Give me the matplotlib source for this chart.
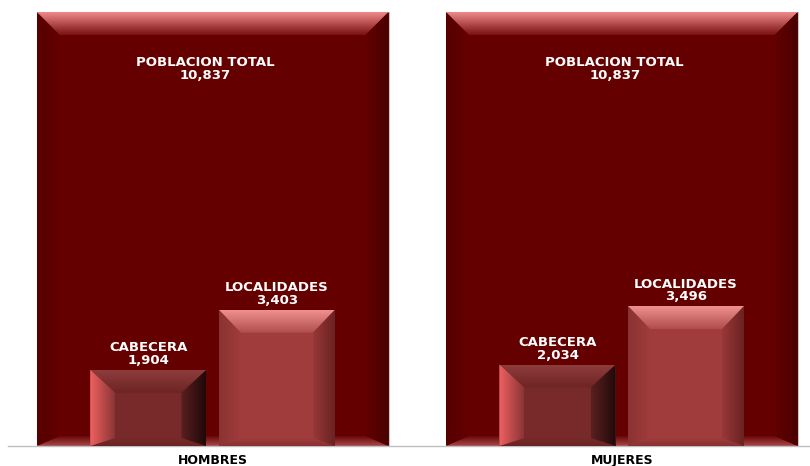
import numpy as np
import matplotlib
matplotlib.use("Agg")
import matplotlib.pyplot as plt
from matplotlib.patches import Polygon
from matplotlib.colors import LinearSegmentedColormap

categories = ["HOMBRES", "MUJERES"]
total = [10837, 10837]
cabecera = [1904, 2034]
localidades = [3403, 3496]
total_label = "POBLACION TOTAL"
cab_label = "CABECERA"
loc_label = "LOCALIDADES"

W, H = 810, 466
fig = plt.figure(figsize=(W / 100, H / 100), dpi=100)
ax = fig.add_axes([8 / W, 20 / H, 802 / W, 440.5 / H])
ymax = 11000
ax.set_xlim(-0.5, 1.46)
ax.set_ylim(0, ymax)

px_x = 1.96 / 802
px_y = ymax / 440.5


def grad_poly(verts, c0, c1, direction, z):
    poly = Polygon(verts, closed=True, facecolor="none", edgecolor="none",
                   transform=ax.transData)
    ax.add_patch(poly)
    v = np.array(verts)
    xmin, xmax = v[:, 0].min(), v[:, 0].max()
    ymin, ymaxv = v[:, 1].min(), v[:, 1].max()
    cmap = LinearSegmentedColormap.from_list("g", [c0, c1])
    g = np.linspace(0, 1, 128)
    if direction == "up":
        arr = g.reshape(-1, 1)
    elif direction == "down":
        arr = g[::-1].reshape(-1, 1)
    elif direction == "right":
        arr = g.reshape(1, -1)
    else:
        arr = g[::-1].reshape(1, -1)
    im = ax.imshow(arr, cmap=cmap, extent=[xmin, xmax, ymin, ymaxv],
                   origin="lower", aspect="auto", interpolation="bilinear",
                   zorder=z)
    im.set_clip_path(poly)


def bevel(patch, dxp, dyt, dyb, top, bottom, left, right, z):
    x0 = patch.get_x()
    x1 = x0 + patch.get_width()
    y0 = patch.get_y()
    y1 = y0 + patch.get_height()
    dx = dxp * px_x
    dt = dyt * px_y
    db = dyb * px_y
    grad_poly([(x0, y1), (x1, y1), (x1 - dx, y1 - dt), (x0 + dx, y1 - dt)],
              top[0], top[1], "down", z)
    grad_poly([(x0, y0), (x1, y0), (x1 - dx, y0 + db), (x0 + dx, y0 + db)],
              bottom[0], bottom[1], "up", z)
    grad_poly([(x0, y0), (x0, y1), (x0 + dx, y1 - dt), (x0 + dx, y0 + db)],
              left[0], left[1], "right", z)
    grad_poly([(x1, y0), (x1, y1), (x1 - dx, y1 - dt), (x1 - dx, y0 + db)],
              right[0], right[1], "left", z)


x = np.arange(len(categories))
big = ax.bar(x, total, width=0.86, color="#650000", edgecolor="#c8c8c8",
             linewidth=0.8, zorder=1)
off = 0.157
sw = 0.284
cab = ax.bar(x - off, cabecera, width=sw, color="#782a2a", zorder=3)
loc = ax.bar(x + off, localidades, width=sw, color="#a03c3c", zorder=3)

for p in big:
    bevel(p, 23, 23, 10,
          ("#f08a8a", "#7a1010"), ("#a84848", "#6a0808"),
          ("#560000", "#650000"), ("#4a0000", "#620000"), 2)
for p in cab:
    bevel(p, 25, 23, 8,
          ("#8e3c3c", "#6e2424"), ("#6a2424", "#782a2a"),
          ("#f06060", "#8a3535"), ("#200808", "#5a2020"), 4)
for p in loc:
    bevel(p, 22, 23, 8,
          ("#f09090", "#b04c4c"), ("#8a3030", "#a03c3c"),
          ("#8a3232", "#a03c3c"), ("#6a2222", "#983838"), 4)

tkw = dict(color="white", fontweight="bold", fontsize=9.5, ha="center",
           linespacing=0.95, zorder=6, family="DejaVu Sans")
for i, p in enumerate(big):
    cx = p.get_x() + p.get_width() / 2 - 7 * px_x
    ax.text(cx, total[i] - 44 * px_y, f"{total_label}\n{total[i]:,}",
            va="top", **tkw)
for i, p in enumerate(cab):
    cx = p.get_x() + p.get_width() / 2
    ax.text(cx, cabecera[i] + 3 * px_y, f"{cab_label}\n{cabecera[i]:,}",
            va="bottom", **tkw)
for i, p in enumerate(loc):
    cx = p.get_x() + p.get_width() / 2
    ax.text(cx, localidades[i] + 3 * px_y, f"{loc_label}\n{localidades[i]:,}",
            va="bottom", **tkw)

ax.set_xticks(x)
ax.set_xticklabels(categories, fontsize=9, fontweight="bold")
ax.tick_params(axis="x", length=0, pad=6)
ax.set_yticks([])
for s in ["top", "left", "right"]:
    ax.spines[s].set_visible(False)
ax.spines["bottom"].set_color("#bfbfbf")
ax.spines["bottom"].set_linewidth(1)
ax.set_xlim(-0.5, 1.46)
ax.set_ylim(0, ymax)

fig.savefig("out.png", dpi=100)
